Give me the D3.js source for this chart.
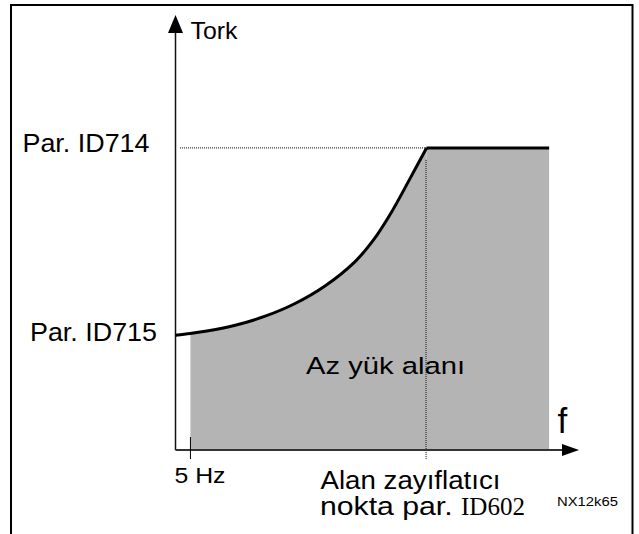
<!DOCTYPE html>
<html>
<head>
<meta charset="utf-8">
<script src="https://cdn.jsdelivr.net/npm/d3@7"></script>
<style>
  html, body { margin: 0; padding: 0; background: #fff; }
  svg { display: block; }
  text { font-family: "Liberation Sans", Arial, sans-serif; fill: #000; }
</style>
</head>
<body>
<svg id="chart" width="639" height="534"></svg>
<script>
// Torque limit curve versus output frequency (schematic units)
const freq   = [0, 5, 10, 20, 30, 40, 50, 60, 66, 72, 78, 84];
const torque = [38, 38.6, 39.3, 41.3, 44.3, 48.5, 54.3, 62.3, 69.2, 78.3, 89, 100];

const fMin = 5;        // 5 Hz lower bound of the region
const fWeak = 84;      // field weakening point
const fEnd = 125;      // end of the shaded region
const tHigh = 100;     // Par. ID714
const tLow = 38;       // Par. ID715

const yTickLabels = ["Par. ID714", "Par. ID715"];
const yTickValues = [tHigh, tLow];
const xTitle = "f";
const yTitle = "Tork";
const regionLabel = "Az yük alanı";
const minFreqLabel = "5 Hz";
const weakLabelLine1 = "Alan zayıflatıcı";
const weakLabelLine2 = ["nokta par. ", "ID602"];
const figCode = "NX12k65";

const svg = d3.select("#chart");

const x = d3.scaleLinear().domain([0, 135]).range([175.5, 579]);
const y = d3.scaleLinear().domain([0, 144]).range([450, 15]);
const smooth = d3.curveCatmullRom.alpha(0.5);

// outer frame (open at the bottom)
svg.append("path")
  .attr("d", "M11,534 V5 H632.5 V534")
  .attr("fill", "none").attr("stroke", "#000").attr("stroke-width", 2);

const pts = freq.map((f, i) => [f, torque[i]]);
const shadePts = pts.filter(p => p[0] >= fMin);

// shaded region under the curve
svg.append("path")
  .datum(shadePts)
  .attr("fill", "#b4b4b4")
  .attr("d", d3.area().curve(smooth)
    .x(d => x(d[0])).y0(y(0)).y1(d => y(d[1])));

svg.append("path")
  .datum([[fWeak, tHigh], [fEnd, tHigh]])
  .attr("fill", "#b4b4b4")
  .attr("d", d3.area().x(d => x(d[0])).y0(y(0)).y1(d => y(d[1])));

// dotted guide lines
svg.append("line")
  .attr("x1", x(1.5)).attr("x2", x(fWeak)).attr("y1", y(tHigh)).attr("y2", y(tHigh))
  .attr("stroke", "#000").attr("stroke-width", 1).attr("stroke-dasharray", "1,1");
svg.append("line")
  .attr("x1", x(fWeak) - 0.5).attr("x2", x(fWeak) - 0.5).attr("y1", y(tHigh) + 12).attr("y2", y(0) + 9)
  .attr("stroke", "#000").attr("stroke-width", 1).attr("stroke-dasharray", "1,1");

// axes
svg.append("line")
  .attr("x1", x(0)).attr("x2", x(0)).attr("y1", y(0)).attr("y2", y(144) + 17)
  .attr("stroke", "#111").attr("stroke-width", 1.5);
svg.append("path")
  .attr("d", `M${x(0)},${y(144)} L${x(0) - 7.5},${y(144) + 18} L${x(0) + 7.5},${y(144) + 18} Z`)
  .attr("fill", "#000");
svg.append("line")
  .attr("x1", x(0)).attr("x2", x(135) - 17).attr("y1", y(0)).attr("y2", y(0))
  .attr("stroke", "#333").attr("stroke-width", 2);
svg.append("path")
  .attr("d", `M${x(135)},${y(0)} L${x(135) - 17},${y(0) - 6} L${x(135) - 17},${y(0) + 6} Z`)
  .attr("fill", "#000");

// 5 Hz tick
svg.append("line")
  .attr("x1", x(fMin)).attr("x2", x(fMin)).attr("y1", y(0) - 13).attr("y2", y(0) + 9)
  .attr("stroke", "#000").attr("stroke-width", 1);

// torque curve
svg.append("path")
  .datum(pts)
  .attr("fill", "none").attr("stroke", "#000").attr("stroke-width", 3)
  .attr("stroke-linejoin", "round")
  .attr("d", d3.line().curve(smooth).x(d => x(d[0])).y(d => y(d[1])));
svg.append("path")
  .datum([[fWeak, tHigh], [fEnd, tHigh]])
  .attr("fill", "none").attr("stroke", "#000").attr("stroke-width", 3)
  .attr("d", d3.line().x(d => x(d[0])).y(d => y(d[1])));

// texts
function label(txt, px, py, size, len) {
  const t = svg.append("text").attr("x", px).attr("y", py)
    .attr("font-size", size).text(txt);
  if (len) t.attr("textLength", len).attr("lengthAdjust", "spacingAndGlyphs");
  return t;
}

label(yTitle, 190.5, 38.5, 24, 47);
label(yTickLabels[0], 22.5, y(yTickValues[0]) + 4, 25, 127);
label(yTickLabels[1], 30, y(yTickValues[1]) + 6, 25, 127);
label(regionLabel, 306, 374, 24.5, 159);
label(xTitle, 557.5, 433, 35);
label(minFreqLabel, 174.5, 483, 21.5, 51);
label(weakLabelLine1, 320.5, 489, 26, 180);

const t2 = svg.append("text").attr("x", 320).attr("y", 515).attr("font-size", 26);
t2.append("tspan").text(weakLabelLine2[0])
  .attr("textLength", 141).attr("lengthAdjust", "spacingAndGlyphs");
t2.append("tspan").text(weakLabelLine2[1])
  .attr("font-family", "'Liberation Serif', 'Times New Roman', serif")
  .attr("textLength", 64).attr("lengthAdjust", "spacingAndGlyphs");

label(figCode, 557, 506, 12.5, 61);
</script>
</body>
</html>
